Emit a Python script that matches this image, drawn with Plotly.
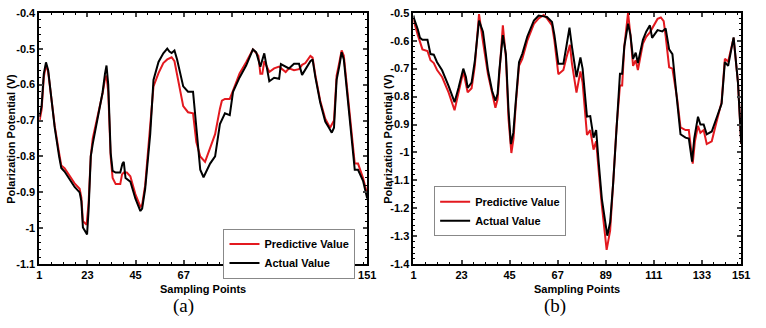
import plotly.graph_objects as go

# ---------- data ----------
a_act_x = [1, 2, 3, 4, 5, 6, 8, 10, 11, 12.5, 14.8, 17.1, 19.4, 20.2, 20.9, 22.8, 23.5, 24.5, 25.4, 27.6,
           29.9, 31, 31.7, 32.5, 33.6, 34.5, 35.9, 38, 39, 39.6, 40.4, 42.6, 44.9, 47.2, 48, 49.4, 50.5,
           51.7, 53.2, 55.5, 57.7, 59.5, 60.5, 61.5, 62.8, 64, 66.8, 69, 71.3, 72.8, 74.6, 76.1, 77.5,
           79.1, 81.4, 83.6, 85.9, 88.1, 89.6, 92.6, 95.6, 98.7, 100.2, 102.1, 103.9, 106.2, 108.4,
           110.7, 111.5, 113.7, 115.2, 117.5, 119.8, 121.2, 122.7, 125, 126, 127.3, 129.5, 131.8, 133.5,
           134.8, 135.8, 137, 138.2, 139.3, 140.3, 142.3, 145.3, 146.8, 149.1, 151]
a_act_y = [-0.69, -0.66, -0.57, -0.538, -0.56, -0.62, -0.72, -0.80, -0.832, -0.842, -0.864, -0.885, -0.90,
           -0.925, -0.998, -1.017, -0.95, -0.80, -0.765, -0.695, -0.622, -0.57, -0.547, -0.60, -0.79, -0.84,
           -0.845, -0.845, -0.82, -0.815, -0.86, -0.87, -0.917, -0.952, -0.945, -0.89, -0.82, -0.738,
           -0.587, -0.537, -0.513, -0.50, -0.508, -0.512, -0.505, -0.53, -0.605, -0.62, -0.62, -0.73,
           -0.837, -0.858, -0.84, -0.82, -0.80, -0.71, -0.68, -0.685, -0.62, -0.58, -0.547, -0.502,
           -0.51, -0.55, -0.513, -0.591, -0.581, -0.584, -0.543, -0.55, -0.555, -0.542, -0.542, -0.573,
           -0.557, -0.535, -0.53, -0.58, -0.65, -0.703, -0.72, -0.734, -0.72, -0.587, -0.55, -0.51,
           -0.53, -0.65, -0.837, -0.837, -0.868, -0.917]

a_pred_x = [1, 2, 3, 4, 5, 6, 8, 10, 11, 12.5, 14.8, 17.1, 19.4, 20.2, 20.9, 22.6, 23.5, 24.5, 25.4, 27.6,
            29.9, 31, 31.7, 32.5, 33.6, 34.5, 35.9, 38, 38.8, 39.6, 41, 42.6, 44.9, 47.2, 48, 49.4, 50.5,
            51.7, 53.2, 55.5, 57.7, 59.5, 61.5, 62.8, 64, 66.8, 69, 71.3, 72.8, 74.6, 76.8, 79.1, 81.4,
            83.6, 84.5, 85.9, 88.1, 89.6, 92.6, 95.6, 98.7, 100.2, 101.2, 102.1, 103, 103.9, 106.2, 108.4,
            110.7, 113.7, 115.2, 117.5, 119.8, 121.2, 122.7, 125, 126, 127.3, 129.5, 131.8, 134, 135.8,
            137, 138.2, 139.3, 140.3, 142.3, 145.3, 146.8, 149.1, 151]
a_pred_y = [-0.703, -0.67, -0.58, -0.545, -0.565, -0.62, -0.715, -0.79, -0.825, -0.833, -0.855, -0.875,
            -0.89, -0.915, -0.98, -0.99, -0.93, -0.80, -0.75, -0.69, -0.625, -0.585, -0.575, -0.62, -0.80,
            -0.86, -0.877, -0.877, -0.85, -0.845, -0.845, -0.855, -0.905, -0.94, -0.935, -0.88, -0.80,
            -0.72, -0.605, -0.568, -0.54, -0.53, -0.524, -0.535, -0.57, -0.66, -0.677, -0.68, -0.76, -0.80,
            -0.815, -0.775, -0.738, -0.667, -0.645, -0.64, -0.64, -0.617, -0.569, -0.538, -0.502, -0.512,
            -0.52, -0.57, -0.57, -0.535, -0.565, -0.555, -0.55, -0.565, -0.555, -0.56, -0.557, -0.545,
            -0.54, -0.52, -0.525, -0.575, -0.645, -0.695, -0.72, -0.70, -0.575, -0.54, -0.505, -0.52,
            -0.645, -0.82, -0.82, -0.86, -0.905]

b_act_x = [1, 1.3, 3, 4, 5.1, 7.4, 8.8, 10.3, 11.8, 14.1, 17.1, 19.8, 21.6, 23.8, 25, 25.8, 27.6, 29.1, 31,
           32.8, 35.1, 37, 38.5, 39.5, 40.3, 41.9, 43.3, 44.5, 45.6, 46.7, 47.8, 49.3, 50.8, 53.1, 56.1,
           58.3, 60.6, 62.1, 64.4, 65.5, 67.3, 69.6, 71, 72.4, 73.5, 75.6, 77.4, 78.4, 80.4, 81.9, 83.4,
           84.6, 85.7, 87.2, 89.7, 91, 92.4, 93.9, 95.5, 96.5, 97.5, 99.2, 100.3, 101.5, 102.7, 103.7,
           106, 107.5, 109.2, 110.2, 112.7, 114.9, 116.4, 118, 119.5, 121.7, 123.2, 125.5, 127, 128.5,
           129.5, 131.2, 132.3, 133.8, 135.2, 137.5, 139.7, 142, 143.5, 145, 147.5, 149.5, 151]
b_act_y = [-0.51, -0.522, -0.56, -0.59, -0.597, -0.597, -0.648, -0.65, -0.677, -0.706, -0.763, -0.82,
           -0.769, -0.70, -0.73, -0.769, -0.75, -0.671, -0.528, -0.568, -0.706, -0.78, -0.815, -0.79,
           -0.706, -0.58, -0.648, -0.85, -0.97, -0.93, -0.82, -0.677, -0.647, -0.585, -0.528, -0.51,
           -0.513, -0.515, -0.533, -0.58, -0.683, -0.683, -0.62, -0.553, -0.62, -0.73, -0.66, -0.70,
           -0.872, -0.87, -0.947, -0.92, -1.03, -1.166, -1.298, -1.25, -1.108, -0.913, -0.718, -0.718,
           -0.62, -0.539, -0.58, -0.665, -0.643, -0.68, -0.597, -0.568, -0.545, -0.59, -0.562, -0.567,
           -0.556, -0.631, -0.648, -0.82, -0.935, -0.947, -0.95, -1.033, -0.95, -0.872, -0.90, -0.90,
           -0.935, -0.925, -0.878, -0.826, -0.677, -0.69, -0.588, -0.75, -0.97]

b_pred_x = [1, 1.3, 3, 5.1, 7.4, 8.8, 10.3, 11.8, 14.1, 17.1, 19.8, 21.6, 23.8, 25.8, 27.6, 29.1, 31, 32.8,
            35.1, 38.5, 39.5, 40.3, 41.9, 43.3, 44.5, 45.8, 46.8, 47.8, 49.3, 50.8, 53.1, 56.1, 58.3, 60.6,
            62.1, 64.4, 65.5, 67.3, 69.6, 71, 72.6, 73.5, 75.6, 77.4, 78.4, 80.4, 81.9, 83.4, 84.6, 85.7,
            87.2, 89.4, 91, 92.4, 93.9, 95.5, 96.5, 97.5, 99.2, 100.3, 101.5, 102.7, 103.7, 106, 107.5,
            109.2, 110.5, 112.7, 114.2, 115.5, 116.4, 118, 119.5, 121.7, 123.2, 125.5, 127, 128.8, 129.8,
            131.2, 132.3, 133.8, 135.2, 137.5, 139.7, 142, 143.5, 145, 147.5, 149.5, 151]
b_pred_y = [-0.52, -0.533, -0.58, -0.631, -0.637, -0.67, -0.68, -0.705, -0.73, -0.786, -0.849, -0.79,
            -0.71, -0.785, -0.77, -0.688, -0.505, -0.603, -0.72, -0.84, -0.81, -0.72, -0.545, -0.66,
            -0.88, -1.002, -0.95, -0.83, -0.69, -0.665, -0.60, -0.54, -0.52, -0.508, -0.52, -0.545,
            -0.60, -0.72, -0.705, -0.66, -0.615, -0.68, -0.786, -0.71, -0.75, -0.937, -0.92, -0.99,
            -0.96, -1.06, -1.19, -1.349, -1.28, -1.108, -0.913, -0.76, -0.76, -0.62, -0.50, -0.58,
            -0.69, -0.67, -0.705, -0.61, -0.586, -0.57, -0.55, -0.522, -0.517, -0.53, -0.583, -0.695,
            -0.70, -0.81, -0.91, -0.92, -0.92, -1.04, -0.96, -0.905, -0.93, -0.92, -0.97, -0.96, -0.89,
            -0.82, -0.665, -0.675, -0.59, -0.75, -0.97]

x_ticks = [1, 23, 45, 67, 89, 111, 133, 151]
a_y_ticks = [-1.1, -1.0, -0.9, -0.8, -0.7, -0.6, -0.5, -0.4]
a_y_text = ["-1.1", "-1", "-0.9", "-0.8", "-0.7", "-0.6", "-0.5", "-0.4"]
b_y_ticks = [-1.4, -1.3, -1.2, -1.1, -1.0, -0.9, -0.8, -0.7, -0.6, -0.5]
b_y_text = ["-1.4", "-1.3", "-1.2", "-1.1", "-1", "-0.9", "-0.8", "-0.7", "-0.6", "-0.5"]
series_names = ["Predictive Value", "Actual Value"]
panel_labels = ["(a)", "(b)"]

RED = "#e3191f"
BLACK = "#000000"
W, H = 766, 328
FONT = "Liberation Sans, Arial, sans-serif"

fig = go.Figure()
fig.add_trace(go.Scatter(x=a_pred_x, y=a_pred_y, mode="lines", name=series_names[0],
                         line=dict(color=RED, width=2), xaxis="x", yaxis="y", legend="legend"))
fig.add_trace(go.Scatter(x=a_act_x, y=a_act_y, mode="lines", name=series_names[1],
                         line=dict(color=BLACK, width=2), xaxis="x", yaxis="y", legend="legend"))
fig.add_trace(go.Scatter(x=b_pred_x, y=b_pred_y, mode="lines", name=series_names[0],
                         line=dict(color=RED, width=2), xaxis="x2", yaxis="y2", legend="legend2"))
fig.add_trace(go.Scatter(x=b_act_x, y=b_act_y, mode="lines", name=series_names[1],
                         line=dict(color=BLACK, width=2), xaxis="x2", yaxis="y2", legend="legend2"))

tickfont = dict(family=FONT, size=11, color="black", weight="bold")


def xaxis(domain, anchor):
    return dict(domain=domain, anchor=anchor, range=[1, 151], tickvals=x_ticks,
                ticktext=[str(v) for v in x_ticks], ticks="inside", ticklen=4, tickwidth=1.5,
                showline=True, linecolor="black", linewidth=2, mirror="allticks",
                showgrid=False, zeroline=False, tickfont=tickfont,
                minor=dict(ticks="inside", ticklen=2, tickwidth=1, tickcolor="black",
                           tick0=1, dtick=5.5, showgrid=False))


def yaxis(domain, anchor, rng, vals, texts):
    return dict(domain=domain, anchor=anchor, range=rng, tickvals=vals, ticktext=texts,
                ticks="inside", ticklen=4, tickwidth=1.5, showline=True, linecolor="black",
                linewidth=2, mirror="allticks", showgrid=False, zeroline=False, tickfont=tickfont,
                minor=dict(ticks="inside", ticklen=2, tickwidth=1, tickcolor="black",
                           tick0=-1.4, dtick=0.02, showgrid=False))


yd = [1 - 268 / H, 1 - 7 / H]
fig.update_layout(
    width=W, height=H, margin=dict(l=0, r=0, t=0, b=0),
    plot_bgcolor="white", paper_bgcolor="white",
    xaxis=xaxis([37 / W, 370 / W], "y"),
    yaxis=yaxis(yd, "x", [-1.1, -0.4], a_y_ticks, a_y_text),
    xaxis2=xaxis([417 / W, 750 / W], "y2"),
    yaxis2=yaxis(yd, "x2", [-1.4, -0.5], b_y_ticks, b_y_text),
    legend=dict(x=224 / W, y=1 - 231 / H, xanchor="left", yanchor="top",
                bgcolor="white", bordercolor="#888", borderwidth=1,
                font=dict(family=FONT, size=11, color="black", weight="bold"),
                tracegroupgap=0, itemwidth=30),
    legend2=dict(x=438 / W, y=1 - 187 / H, xanchor="left", yanchor="top",
                 bgcolor="white", bordercolor="#888", borderwidth=1,
                 font=dict(family=FONT, size=11, color="black", weight="bold"),
                 tracegroupgap=0, itemwidth=30),
    showlegend=True,
)

ann_font = dict(family=FONT, size=11, color="black", weight="bold")
for cx in [(37 + 370) / 2, (417 + 750) / 2]:
    fig.add_annotation(text="Sampling Points", x=cx / W, y=1 - 294 / H, xref="paper", yref="paper",
                       showarrow=False, font=ann_font, xanchor="center", yanchor="middle")
for cx in [8, 391]:
    fig.add_annotation(text="Polarization Potential (V)", x=cx / W, y=1 - 138 / H, xref="paper",
                       yref="paper", showarrow=False, font=ann_font, textangle=-90,
                       xanchor="center", yanchor="middle")
for lbl, cx in zip(panel_labels, [183, 561]):
    fig.add_annotation(text=lbl, x=cx / W, y=1 - 311 / H, xref="paper", yref="paper",
                       showarrow=False, font=dict(family="Liberation Serif, Times New Roman, serif",
                                                   size=19, color="black"),
                       xanchor="center", yanchor="middle")

fig.write_html("out.html")
